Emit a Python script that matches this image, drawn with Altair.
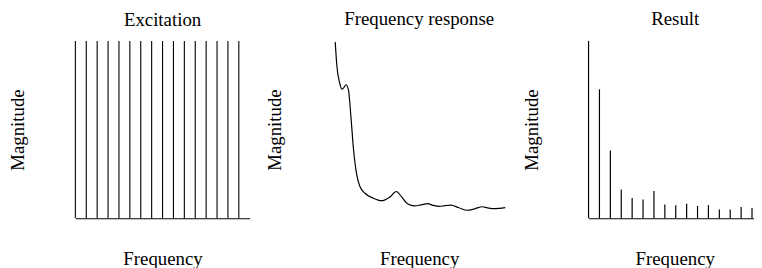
import altair as alt
import pandas as pd

# Excitation: harmonic comb (16 equal harmonics)
exc_harmonic = list(range(16))
exc_magnitude = [100] * 16

# Frequency response curve (frequency in harmonic units, magnitude %)
resp_freq = [0.30, 0.45, 0.70, 0.91, 1.09, 1.30, 1.52, 1.73, 1.97, 2.27, 2.57, 3.03,
             3.79, 4.55, 5.30, 5.91, 6.36, 6.97, 7.57, 8.18, 8.79, 9.27, 9.85, 10.36,
             10.91, 11.64, 12.43, 13.09, 13.79, 14.27, 14.85, 15.36, 15.91]
resp_mag = [99.3, 86.0, 76.5, 72.8, 73.7, 75.3, 72.1, 58.1, 39.3, 24.6, 17.9, 14.1,
            11.3, 9.9, 11.9, 15.1, 12.3, 8.0, 7.0, 7.5, 8.2, 7.3, 6.7, 7.1,
            7.4, 5.9, 4.5, 5.3, 6.5, 5.9, 5.4, 5.6, 6.0]

# Result: harmonics shaped by the response
res_harmonic = list(range(16))
res_magnitude = [100, 72.7, 38.2, 16.2, 11.4, 10.6, 15.4, 7.8, 7.3, 8.2, 6.9, 7.4,
                 5.0, 5.0, 6.3, 5.8]

FONT = "Liberation Serif"
W, H = 176, 179

exc_df = pd.DataFrame({"f": exc_harmonic, "m": exc_magnitude})
resp_df = pd.DataFrame({"f": resp_freq, "m": resp_mag})
res_df = pd.DataFrame({"f": res_harmonic, "m": res_magnitude})


def yaxis():
    return alt.Axis(title="Magnitude", domain=False, ticks=False, labels=False,
                    grid=False, titlePadding=48)


def xaxis(domain=True, titleX=None):
    kw = dict(title="Frequency", domain=domain, ticks=False, labels=False,
              grid=False, titlePadding=32, domainColor="black", domainWidth=1)
    if titleX is not None:
        kw["titleX"] = titleX
    return alt.Axis(**kw)


ysc = alt.Scale(domain=[0, 100], nice=False, zero=True)

p1 = alt.Chart(exc_df).mark_rule(color="black", strokeWidth=1.1).encode(
    x=alt.X("f:Q", scale=alt.Scale(domain=[0, 16], nice=False), axis=xaxis()),
    y=alt.Y("m:Q", scale=ysc, axis=yaxis()),
    y2=alt.datum(0),
).properties(width=W, height=H, title=alt.TitleParams("Excitation"))

p2 = alt.Chart(resp_df).mark_line(color="black", strokeWidth=1.2,
                                  interpolate="monotone").encode(
    x=alt.X("f:Q", scale=alt.Scale(domain=[0, 16], nice=False), axis=xaxis(domain=False)),
    y=alt.Y("m:Q", scale=ysc, axis=yaxis()),
).properties(width=W, height=H, title=alt.TitleParams("Frequency response"))

W3 = 167
p3 = alt.Chart(res_df).mark_rule(color="black", strokeWidth=1.2).encode(
    x=alt.X("f:Q", scale=alt.Scale(domain=[0, W3 / 11], nice=False),
            axis=xaxis(titleX=87)),
    y=alt.Y("m:Q", scale=ysc, axis=yaxis()),
    y2=alt.datum(0),
).properties(width=W3, height=H, title=alt.TitleParams("Result", dx=4))

chart = alt.hconcat(p1, p2, p3, spacing=83, bounds="flush").properties(
    padding={"left": 1, "top": 0, "right": 0, "bottom": 0}
).configure_view(
    stroke=None
).configure_title(
    font=FONT, fontSize=19, fontWeight="normal", color="black", anchor="middle", offset=11
).configure_axis(
    titleFont=FONT, titleFontSize=19, titleFontWeight="normal", titleColor="black"
)

chart.save("out.html", embed_options={"renderer": "svg", "actions": False})
